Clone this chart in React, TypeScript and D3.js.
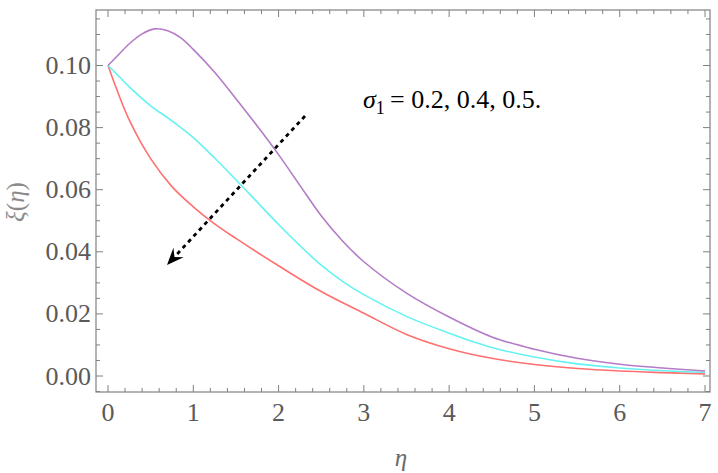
import React from "react";
import * as d3 from "d3";

const etaPurple = [0, 0.1, 0.25, 0.4, 0.55, 0.7, 0.85, 1.0, 1.25, 1.5, 1.75, 2.0, 2.25, 2.5, 2.75, 3.0, 3.5, 4.0, 4.5, 5.0, 5.5, 6.0, 6.5, 7.0];
const valPurple = [0.1, 0.1028, 0.107, 0.1102, 0.1118, 0.1112, 0.109, 0.1052, 0.0978, 0.0893, 0.0805, 0.0713, 0.0614, 0.0516, 0.0435, 0.0368, 0.0267, 0.019, 0.0126, 0.0086, 0.0057, 0.0038, 0.0026, 0.0016];

const etaCyan = [0, 0.1, 0.25, 0.5, 0.75, 1.0, 1.25, 1.5, 1.75, 2.0, 2.25, 2.5, 2.75, 3.0, 3.5, 4.0, 4.5, 5.0, 5.5, 6.0, 6.5, 7.0];
const valCyan = [0.1, 0.0973, 0.0931, 0.087, 0.0822, 0.0768, 0.0702, 0.0632, 0.056, 0.0488, 0.042, 0.0357, 0.0305, 0.0262, 0.0192, 0.0138, 0.0092, 0.0061, 0.0039, 0.0026, 0.0017, 0.0012];

const etaRed = [0, 0.1, 0.25, 0.5, 0.75, 1.0, 1.25, 1.5, 2.0, 2.5, 3.0, 3.5, 4.0, 4.5, 5.0, 5.5, 6.0, 6.5, 7.0];
const valRed = [0.1, 0.0925, 0.0824, 0.07, 0.061, 0.0545, 0.049, 0.0443, 0.0355, 0.0272, 0.0202, 0.0134, 0.0088, 0.0057, 0.0037, 0.0024, 0.0016, 0.0011, 0.0007];

const xTicks = [0, 1, 2, 3, 4, 5, 6, 7];
const yTicks = [0.0, 0.02, 0.04, 0.06, 0.08, 0.1];
const yTickLabels = ["0.00", "0.02", "0.04", "0.06", "0.08", "0.10"];

const series = [
  { eta: etaRed, val: valRed, color: "#ff7070" },
  { eta: etaCyan, val: valCyan, color: "#66f2f2" },
  { eta: etaPurple, val: valPurple, color: "#b47cc8" },
];

export default function App() {
  const W = 718, H = 473;
  const left = 96, right = 710, top = 10, bottom = 392;
  const x = d3.scaleLinear().domain([0, 7]).range([108, 705]);
  const y = d3.scaleLinear().domain([0, 0.1]).range([376, 65.5]);

  const lineGen = d3
    .line<[number, number]>()
    .x((d) => x(d[0]))
    .y((d) => y(d[1]))
    .curve(d3.curveCatmullRom.alpha(0.5));

  const xMinor = d3.range(0, 36).map((i) => i * 0.2).filter((v) => Math.abs(v - Math.round(v)) > 1e-6);
  const yMinor = d3.range(-1, 24).map((i) => i * 0.005).filter((v) => Math.abs(v / 0.02 - Math.round(v / 0.02)) > 1e-6);
  const frame = "#808080";
  const labelColor = "#5a5a5a";
  const font = "'Liberation Serif', 'DejaVu Serif', serif";

  // arrow
  const a0 = [305, 116];
  const a1 = [167, 265];
  const ang = Math.atan2(a1[1] - a0[1], a1[0] - a0[0]);
  const headLen = 17, headW = 7;
  const bx = a1[0] - headLen * Math.cos(ang), by = a1[1] - headLen * Math.sin(ang);
  const nx = -Math.sin(ang), ny = Math.cos(ang);
  const head = `M${a1[0]},${a1[1]} L${bx + nx * headW},${by + ny * headW} L${a1[0] - 11 * Math.cos(ang)},${a1[1] - 11 * Math.sin(ang)} L${bx - nx * headW},${by - ny * headW} Z`;

  return (
    <svg width={W} height={H} style={{ position: "absolute", left: 0, top: 0, background: "#fff" }}>
      <rect x={0} y={0} width={W} height={H} fill="#fff" />
      <defs>
        <clipPath id="plotclip2">
          <rect x={left} y={top} width={right - left} height={bottom - top} />
        </clipPath>
      </defs>
      <g stroke={frame} strokeWidth={1}>
        {xTicks.map((t) => (
          <g key={"xt" + t}>
            <line x1={x(t)} x2={x(t)} y1={bottom} y2={bottom - 7} />
            <line x1={x(t)} x2={x(t)} y1={top} y2={top + 7} />
          </g>
        ))}
        {xMinor.map((t) => (
          <g key={"xm" + t}>
            <line x1={x(t)} x2={x(t)} y1={bottom} y2={bottom - 4} />
            <line x1={x(t)} x2={x(t)} y1={top} y2={top + 4} />
          </g>
        ))}
        {yTicks.map((t) => (
          <g key={"yt" + t}>
            <line x1={left} x2={left + 7} y1={y(t)} y2={y(t)} />
            <line x1={right} x2={right - 7} y1={y(t)} y2={y(t)} />
          </g>
        ))}
        {yMinor.filter((t) => y(t) > top && y(t) < bottom).map((t) => (
          <g key={"ym" + t}>
            <line x1={left} x2={left + 4} y1={y(t)} y2={y(t)} />
            <line x1={right} x2={right - 4} y1={y(t)} y2={y(t)} />
          </g>
        ))}
      </g>
      <g clipPath="url(#plotclip2)" fill="none" strokeWidth={1.6}>
        {series.map((s, i) => (
          <path key={i} d={lineGen(s.eta.map((e, j) => [e, s.val[j]] as [number, number])) as string} stroke={s.color} />
        ))}
      </g>
      <rect x={left} y={top} width={right - left} height={bottom - top} fill="none" stroke={frame} strokeWidth={1.2} />
      <g fontFamily={font} fontSize={26} fill={labelColor}>
        {xTicks.map((t) => (
          <text key={"xl" + t} x={x(t)} y={421} textAnchor="middle">
            {t}
          </text>
        ))}
        {yTicks.map((t, i) => (
          <text key={"yl" + t} x={91} y={y(t) + 8.5} textAnchor="end">
            {yTickLabels[i]}
          </text>
        ))}
      </g>
      <text x={401} y={466} fontFamily={font} fontSize={25} fontStyle="italic" fill="#6a6a6a" textAnchor="middle">
        η
      </text>
      <text transform="translate(24,202) rotate(-90)" fontFamily={font} fontSize={25} fill="#8a8a8a" textAnchor="middle">
        <tspan fontStyle="italic">ξ</tspan>(<tspan fontStyle="italic">η</tspan>)
      </text>
      <text x={363} y={108} fontFamily={font} fontSize={26} fill="#000">
        <tspan fontStyle="italic">σ</tspan>
        <tspan fontSize={18} dy={6}>1</tspan>
        <tspan dy={-6}>{"\u2009= 0.2, 0.4, 0.5."}</tspan>
      </text>
      <line
        x1={a0[0]}
        y1={a0[1]}
        x2={bx + 2 * Math.cos(ang)}
        y2={by + 2 * Math.sin(ang)}
        stroke="#000"
        strokeWidth={2.8}
        strokeDasharray="4,4"
      />
      <path d={head} fill="#000" />
    </svg>
  );
}
